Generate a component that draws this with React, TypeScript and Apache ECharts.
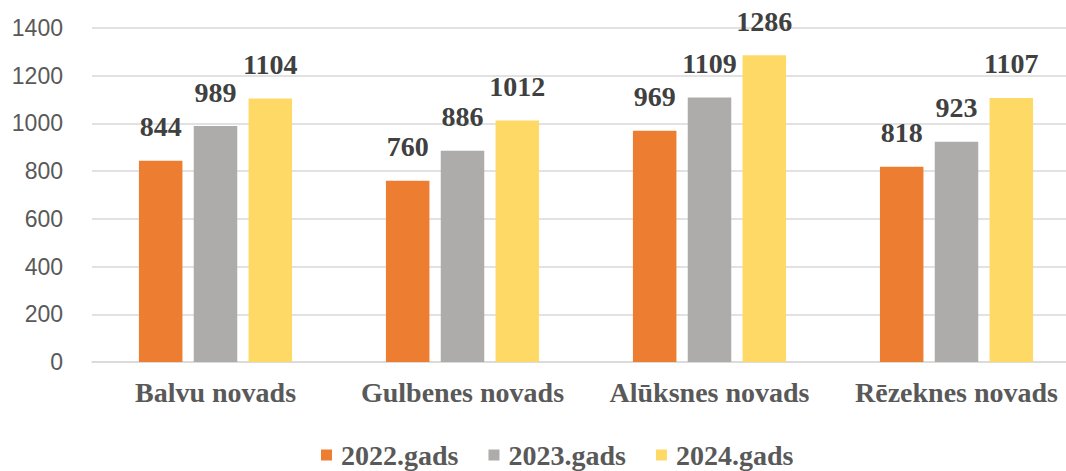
import React, { useEffect, useRef } from "react";
import * as echarts from "echarts";

const categories = ["Balvu novads", "Gulbenes novads", "Alūksnes novads", "Rēzeknes novads"];
const seriesNames = ["2022.gads", "2023.gads", "2024.gads"];
const values2022 = [844, 760, 969, 818];
const values2023 = [989, 886, 1109, 923];
const values2024 = [1104, 1012, 1286, 1107];
const colors = ["#ED7D31", "#AEABAB", "#FFD966"];

export default function App() {
  const ref = useRef<HTMLDivElement>(null);
  useEffect(() => {
    if (!ref.current) return;
    const chart = echarts.init(ref.current, null, { renderer: "svg" });
    const serif = "'Liberation Serif', 'Times New Roman', serif";
    const sans = "'Liberation Sans', Arial, sans-serif";
    const data = [values2022, values2023, values2024];
    chart.setOption({
      animation: false,
      backgroundColor: "#ffffff",
      grid: {
        left: 92,
        top: 28,
        width: 988,
        height: 334,
        containLabel: false,
        outerBoundsMode: "none",
      },
      legend: {
        top: 436,
        left: 316,
        itemWidth: 11,
        itemHeight: 11,
        itemGap: 30,
        icon: "rect",
        textStyle: {
          fontFamily: serif,
          fontWeight: "bold",
          fontSize: 28,
          color: "#595959",
          padding: [0, 0, 0, 4],
        },
        data: seriesNames,
      },
      xAxis: {
        type: "category",
        data: categories,
        axisTick: { show: false },
        axisLine: { lineStyle: { color: "#D9D9D9", width: 1.5 } },
        axisLabel: {
          interval: 0,
          fontFamily: serif,
          fontWeight: "bold",
          fontSize: 28,
          color: "#595959",
          margin: 16,
        },
      },
      yAxis: {
        type: "value",
        min: 0,
        max: 1400,
        interval: 200,
        axisLine: { show: false },
        axisTick: { show: false },
        splitLine: { lineStyle: { color: "#D9D9D9", width: 1.5 } },
        axisLabel: {
          formatter: (v: number) => String(v),
          fontFamily: sans,
          fontSize: 23,
          color: "#595959",
          margin: 29,
        },
      },
      series: seriesNames.map((name, i) => ({
        name,
        type: "bar",
        data: data[i],
        itemStyle: { color: colors[i] },
        barGap: "26%",
        barCategoryGap: "38%",
        label: {
          show: true,
          position: "top",
          distance: 20,
          fontFamily: serif,
          fontWeight: "bold",
          fontSize: 28,
          color: "#404040",
        },
      })),
    });
    return () => chart.dispose();
  }, []);
  return <div ref={ref} style={{ width: 1066, height: 471, position: "absolute", left: 0, top: 0 }} />;
}
